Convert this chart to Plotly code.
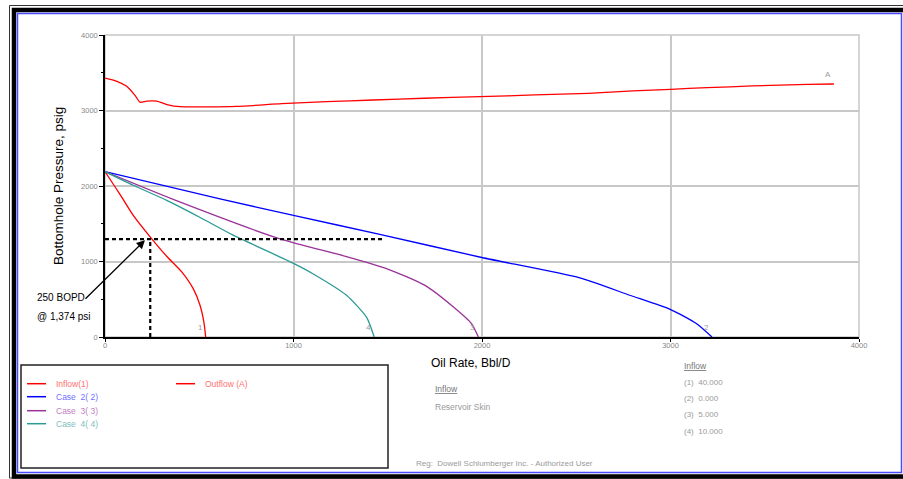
import plotly.graph_objects as go

# ---------------- data ----------------
outflow_rate = [0, 60, 115, 159, 186, 221, 274, 334, 398, 698, 937, 1175, 1423, 1693, 1988, 2280, 2563, 2801, 3001, 3194, 3434, 3729, 3867]
outflow_pressure = [3430, 3390, 3320, 3200, 3110, 3125, 3125, 3075, 3050, 3055, 3090, 3117, 3139, 3162, 3183, 3206, 3228, 3259, 3281, 3302, 3325, 3345, 3351]

inflow1_rate = [0, 53, 97, 150, 248, 327, 407, 468, 504, 525, 534]
inflow1_pressure = [2190, 1990, 1820, 1610, 1300, 1070, 862, 640, 420, 190, 0]

case2_rate = [0, 610, 1000, 1458, 1999, 2519, 2784, 3001, 3137, 3220]
case2_pressure = [2190, 1830, 1610, 1360, 1053, 783, 553, 363, 178, 0]

case3_rate = [0, 362, 928, 1281, 1500, 1700, 1847, 1944, 1981]
case3_pressure = [2190, 1822, 1300, 1065, 900, 680, 400, 178, 0]

case4_rate = [0, 150, 327, 500, 680, 1000, 1105, 1281, 1388, 1428]
case4_pressure = [2190, 2010, 1810, 1590, 1349, 975, 835, 553, 260, 0]

op_rate = 240
op_pressure = 1296
op_line_end = 1474

x_ticks = [0, 1000, 2000, 3000, 4000]
y_ticks = [0, 1000, 2000, 3000, 4000]

skin_labels = ["(1)  40.000", "(2)  0.000", "(3)  5.000", "(4)  10.000"]

# ---------------- layout geometry ----------------
W, H = 903, 479
L, R, T, B = 105, 44, 35, 142
PW, PH = W - L - R, H - T - B


def px(x):
    return (x - L) / PW


def py(y):
    return (H - B - y) / PH


RED = "#ff0000"
BLUE = "#0000ff"
PURPLE = "#993399"
TEAL = "#2a9a96"
GRAY = "#9a9a9a"
FONT = "Liberation Sans"

fig = go.Figure()

series = [
    (inflow1_rate, inflow1_pressure, RED, "Inflow(1)"),
    (case2_rate, case2_pressure, BLUE, "Case 2( 2)"),
    (case3_rate, case3_pressure, PURPLE, "Case 3( 3)"),
    (case4_rate, case4_pressure, TEAL, "Case 4( 4)"),
    (outflow_rate, outflow_pressure, RED, "Outflow (A)"),
]
for xs, ys, c, n in series:
    fig.add_trace(go.Scatter(x=xs, y=ys, mode="lines", name=n,
                             line=dict(color=c, width=1.3, shape="spline", smoothing=0.6),
                             showlegend=False, cliponaxis=False))

# operating point dashed lines
fig.add_trace(go.Scatter(x=[0, op_line_end], y=[op_pressure, op_pressure], mode="lines",
                         line=dict(color="black", width=2.2, dash="4px,3px"), showlegend=False))
fig.add_trace(go.Scatter(x=[op_rate, op_rate], y=[0, op_pressure], mode="lines",
                         line=dict(color="black", width=2.2, dash="4px,3px"), showlegend=False))

# curve end labels
end_labels = [("1", inflow1_rate[-1], inflow1_pressure[-1]),
              ("2", case2_rate[-1], case2_pressure[-1]),
              ("3", case3_rate[-1], case3_pressure[-1]),
              ("4", case4_rate[-1], case4_pressure[-1]),
              ("A", outflow_rate[-1], outflow_pressure[-1])]
anns = []
for t, xv, yv in end_labels:
    anns.append(dict(x=xv - 30, y=yv + 125, text=t, showarrow=False,
                     xanchor="center", yanchor="middle",
                     font=dict(size=8, color=GRAY, family=FONT)))

# arrow annotation
anns.append(dict(x=212, y=1282, ax=-61, ay=60, axref="pixel", ayref="pixel", text="",
                 showarrow=True, arrowhead=2, arrowsize=1.3, arrowwidth=1.3, arrowcolor="black"))
anns.append(dict(xref="paper", yref="paper", x=px(35), y=py(297), xanchor="left", yanchor="middle",
                 text="250 BOPD", showarrow=False, font=dict(size=10, color="black", family=FONT)))
anns.append(dict(xref="paper", yref="paper", x=px(35), y=py(316), xanchor="left", yanchor="middle",
                 text="@ 1,374 psi", showarrow=False, font=dict(size=10, color="black", family=FONT)))

# axis titles
anns.append(dict(xref="paper", yref="paper", x=px(58), y=py(186), textangle=-90,
                 xanchor="center", yanchor="middle",
                 text="Bottomhole Pressure, psig", showarrow=False,
                 font=dict(size=13.5, color="black", family=FONT)))
anns.append(dict(xref="paper", yref="paper", x=px(471), y=py(362.5),
                 xanchor="center", yanchor="middle",
                 text="Oil Rate, Bbl/D", showarrow=False,
                 font=dict(size=12, color="black", family=FONT)))

# legend box entries
shapes = []
legend_items = [
    ("Inflow(1)", RED, "#ff7070", 27, 383.7),
    ("Case  2( 2)", BLUE, "#7070ff", 27, 396.7),
    ("Case  3( 3)", PURPLE, "#c080c0", 27, 410.7),
    ("Case  4( 4)", TEAL, "#80c0c0", 27, 423.7),
    ("Outflow (A)", RED, "#ff7070", 176, 383.7),
]
for txt, lc, tc, x0, y0 in legend_items:
    shapes.append(dict(type="line", xref="paper", yref="paper", x0=px(x0), x1=px(x0 + 19),
                       y0=py(y0), y1=py(y0), line=dict(color=lc, width=1.5)))
    anns.append(dict(xref="paper", yref="paper", x=px(x0 + 27), y=py(y0), xanchor="left",
                     yanchor="middle", text=txt, showarrow=False,
                     font=dict(size=8.5, color=tc, family=FONT)))
shapes.append(dict(type="rect", xref="paper", yref="paper", x0=px(21), x1=px(388),
                   y0=py(365), y1=py(468), line=dict(color="#222222", width=1.5)))

# info text
anns.append(dict(xref="paper", yref="paper", x=px(433), y=py(389), xanchor="left", yanchor="middle",
                 text="<u>Inflow</u>", showarrow=False, font=dict(size=8.5, color="#777777", family=FONT)))
anns.append(dict(xref="paper", yref="paper", x=px(433), y=py(406.5), xanchor="left", yanchor="middle",
                 text="Reservoir Skin", showarrow=False, font=dict(size=8.5, color=GRAY, family=FONT)))
anns.append(dict(xref="paper", yref="paper", x=px(682), y=py(366.5), xanchor="left", yanchor="middle",
                 text="<u>Inflow</u>", showarrow=False, font=dict(size=8.5, color="#777777", family=FONT)))
for i, s in enumerate(skin_labels):
    yy = [382.3, 398.3, 414, 431][i]
    anns.append(dict(xref="paper", yref="paper", x=px(682), y=py(yy), xanchor="left", yanchor="middle",
                     text=s, showarrow=False, font=dict(size=8, color=GRAY, family=FONT)))
anns.append(dict(xref="paper", yref="paper", x=px(414), y=py(463), xanchor="left", yanchor="middle",
                 text="Reg:  Dowell Schlumberger Inc. - Authorized User", showarrow=False,
                 font=dict(size=8, color=GRAY, family=FONT)))

# plot box (gray top/right)
shapes.append(dict(type="rect", xref="paper", yref="paper", x0=0, x1=1, y0=0, y1=1,
                   line=dict(color="#c8c8c8", width=1.5), layer="below"))

# outer frame
shapes.append(dict(type="rect", xref="paper", yref="paper", x0=px(9.5), x1=px(915), y0=py(5.5), y1=py(478),
                   line=dict(color="#333333", width=1)))
shapes.append(dict(type="rect", xref="paper", yref="paper", x0=px(14), x1=px(920), y0=py(10), y1=py(476.5),
                   line=dict(color="black", width=4.5)))
shapes.append(dict(type="rect", xref="paper", yref="paper", x0=px(17.5), x1=px(901.5), y0=py(13.5), y1=py(472.5),
                   line=dict(color="#4a4aff", width=1.5)))

fig.update_layout(
    width=W, height=H,
    margin=dict(l=L, r=R, t=T, b=B),
    paper_bgcolor="white", plot_bgcolor="white",
    showlegend=False,
    annotations=anns, shapes=shapes,
    xaxis=dict(range=[0, 4000], tickvals=x_ticks, ticktext=[str(v) for v in x_ticks],
               showgrid=True, gridcolor="#c8c8c8", gridwidth=1.5,
               showline=True, linecolor="black", linewidth=1.5,
               ticks="outside", ticklen=3, tickcolor="black", ticklabelstandoff=-3,
               tickfont=dict(size=7.5, color="#888888", family=FONT), zeroline=False),
    yaxis=dict(range=[0, 4000], tickvals=y_ticks, ticktext=[str(v) for v in y_ticks],
               showgrid=True, gridcolor="#c8c8c8", gridwidth=1.5,
               showline=True, linecolor="black", linewidth=1.5,
               ticks="outside", ticklen=4, tickcolor="black",
               minor=dict(dtick=500, ticks="outside", ticklen=2, tickcolor="black", showgrid=False),
               tickfont=dict(size=7.5, color="#888888", family=FONT), zeroline=False),
)

fig.write_html("out.html", config={"displayModeBar": False},
               post_script="document.body.style.margin='0';document.body.style.overflow='hidden';")
